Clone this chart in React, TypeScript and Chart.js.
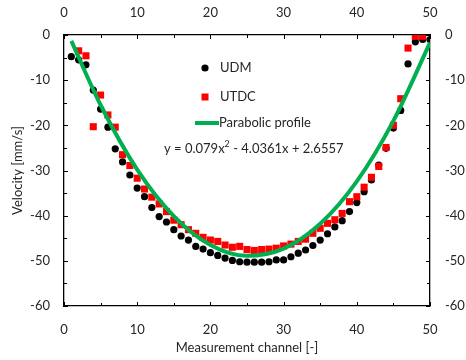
import React, { useEffect, useRef } from "react";
import { Chart, registerables } from "chart.js";

Chart.register(...registerables);

// ---- Data ----
const udmChannels = [1,2,3,4,5,6,7,8,9,10,11,12,13,14,15,16,17,18,19,20,21,22,23,24,25,26,27,28,29,30,31,32,33,34,35,36,37,38,39,40,41,42,43,44,45,46,47,48,49,50];
const udmValues = [-4.8,-5.5,-6.6,-12.2,-16.4,-20.4,-25.2,-28.1,-31.0,-33.9,-35.8,-38.2,-40.2,-41.4,-43.1,-44.5,-45.4,-46.8,-47.4,-48.2,-48.8,-49.4,-49.9,-50.2,-50.3,-50.3,-50.3,-50.2,-49.8,-49.8,-49.1,-48.3,-47.6,-46.6,-45.4,-44.0,-42.5,-41.1,-39.1,-37.1,-34.7,-32.1,-28.8,-25.1,-20.6,-16.7,-6.4,-1.5,-1.0,-1.0];

const utdcChannels = [2,3,4,5,6,7,8,9,10,11,12,13,14,15,16,17,18,19,20,21,22,23,24,25,26,27,28,29,30,31,32,33,34,35,36,37,38,39,40,41,42,43,44,45,46,47,48,49];
const utdcValues = [-3.5,-4.6,-20.3,-13.3,-17.7,-20.4,-26.5,-28.9,-31.7,-34.1,-35.9,-37.4,-39.1,-41.0,-42.0,-43.1,-43.9,-44.8,-45.4,-45.7,-46.5,-47.0,-46.8,-47.5,-47.7,-47.5,-47.4,-47.2,-46.7,-46.3,-45.7,-45.2,-43.9,-42.8,-41.7,-40.9,-39.5,-36.9,-35.8,-33.7,-31.5,-29.1,-24.9,-20.0,-14.1,-2.9,-0.3,-0.3];

const profileChannels = [1,5,10,15,20,25,30,35,40,45,50];
const profileValues = [-1.3,-15.5,-29.8,-40.1,-46.5,-48.9,-47.3,-41.8,-32.4,-19.0,-1.7];

const xTickValues = [0,10,20,30,40,50];
const yTickValues = [0,-10,-20,-30,-40,-50,-60];

const seriesNames = ["UDM", "UTDC", "Parabolic profile"];
const equationText = ["y = 0.079x", "2", " - 4.0361x + 2.6557"];

const FONT = "Lato, 'Open Sans', sans-serif";
const TEXT = "#262626";
const GREEN = "#00b050";
const RED = "#ff0000";

const toPts = (xs: number[], ys: number[]) => xs.map((x, i) => ({ x, y: ys[i] }));

const innerTicks = {
  id: "innerTicks",
  afterDraw(chart: any) {
    const { ctx, chartArea, scales } = chart;
    const { left, right, top, bottom } = chartArea;
    ctx.save();
    ctx.strokeStyle = "#000";
    ctx.lineWidth = 1;
    const xs = scales.x;
    const ys = scales.y;
    for (let v = 0; v <= 50; v += 5) {
      const px = Math.round(xs.getPixelForValue(v)) + 0.5;
      const len = v % 10 === 0 ? 4 : 3;
      ctx.beginPath();
      ctx.moveTo(px, bottom);
      ctx.lineTo(px, bottom - len);
      ctx.moveTo(px, top);
      ctx.lineTo(px, top + len);
      ctx.stroke();
    }
    for (let v = -60; v <= 0; v += 5) {
      const py = Math.round(ys.getPixelForValue(v)) + 0.5;
      const len = v % 10 === 0 ? 4 : 3;
      ctx.beginPath();
      ctx.moveTo(left, py);
      ctx.lineTo(left + len, py);
      ctx.moveTo(right, py);
      ctx.lineTo(right - len, py);
      ctx.stroke();
    }
    ctx.restore();
  },
};

const legendPlugin = {
  id: "inPlotLegend",
  afterDraw(chart: any) {
    const ctx = chart.ctx;
    ctx.save();
    ctx.font = `13px ${FONT}`;
    ctx.fillStyle = TEXT;
    ctx.textBaseline = "middle";
    ctx.textAlign = "left";
    // UDM
    ctx.beginPath();
    ctx.fillStyle = "#000";
    ctx.arc(205, 68, 3.6, 0, Math.PI * 2);
    ctx.fill();
    ctx.fillStyle = TEXT;
    ctx.fillText(seriesNames[0], 220, 68);
    // UTDC
    ctx.fillStyle = RED;
    ctx.fillRect(201.5, 93.5, 7, 7);
    ctx.fillStyle = TEXT;
    ctx.fillText(seriesNames[1], 220, 97);
    // Profile
    ctx.strokeStyle = GREEN;
    ctx.lineWidth = 4;
    ctx.beginPath();
    ctx.moveTo(195, 123);
    ctx.lineTo(219, 123);
    ctx.stroke();
    ctx.fillText(seriesNames[2], 219, 123);
    // Equation
    let x = 164;
    const y = 149;
    ctx.fillText(equationText[0], x, y);
    x += ctx.measureText(equationText[0]).width;
    ctx.font = `9px ${FONT}`;
    ctx.fillText(equationText[1], x, y - 5);
    x += ctx.measureText(equationText[1]).width;
    ctx.font = `13px ${FONT}`;
    ctx.fillText(equationText[2], x, y);
    ctx.restore();
  },
};

export default function App() {
  const ref = useRef<HTMLCanvasElement | null>(null);

  useEffect(() => {
    if (!ref.current) return;
    const tickFont = { family: FONT, size: 13 };
    const xAxis = (position: string, pad: number, size: number, title: boolean) => ({
      type: "linear",
      position,
      min: 0,
      max: 50,
      afterBuildTicks: (s: any) => {
        s.ticks = xTickValues.map((v) => ({ value: v }));
      },
      afterFit: (s: any) => {
        s.height = size;
      },
      ticks: { color: TEXT, font: tickFont, padding: pad, maxRotation: 0 },
      grid: { display: false, drawTicks: false },
      border: { display: true, color: "#000", width: 1.3 },
      title: {
        display: title,
        text: "Measurement channel [-]",
        color: TEXT,
        font: tickFont,
        padding: { top: 0, bottom: 4 },
      },
    });
    const yAxis = (position: string, pad: number, size: number, title: boolean) => ({
      type: "linear",
      position,
      min: -60,
      max: 0,
      afterBuildTicks: (s: any) => {
        s.ticks = yTickValues.map((v) => ({ value: v }));
      },
      afterFit: (s: any) => {
        s.width = size;
      },
      ticks: { color: TEXT, font: tickFont, padding: pad },
      grid: { display: false, drawTicks: false },
      border: { display: true, color: "#000", width: 1.3 },
      title: {
        display: title,
        text: "Velocity [mm/s]",
        color: TEXT,
        font: tickFont,
        padding: { top: 10, bottom: 0 },
      },
    });

    const chart = new Chart(ref.current, {
      type: "scatter",
      data: {
        datasets: [
          {
            label: seriesNames[2],
            data: toPts(profileChannels, profileValues),
            showLine: true,
            borderColor: GREEN,
            borderWidth: 4,
            pointRadius: 0,
            cubicInterpolationMode: "monotone",
            order: 0,
          },
          {
            label: seriesNames[1],
            data: toPts(utdcChannels, utdcValues),
            pointStyle: "rect",
            pointRadius: 5,
            backgroundColor: RED,
            borderColor: RED,
            borderWidth: 0,
            order: 1,
          },
          {
            label: seriesNames[0],
            data: toPts(udmChannels, udmValues),
            pointStyle: "circle",
            pointRadius: 3.6,
            backgroundColor: "#000",
            borderColor: "#000",
            borderWidth: 0,
            order: 2,
          },
        ],
      } as any,
      options: {
        responsive: false,
        animation: false,
        layout: { padding: 0 },
        plugins: { legend: { display: false }, tooltip: { enabled: false } },
        scales: {
          x: xAxis("bottom", 16, 54, true),
          x2: xAxis("top", 14, 35, false),
          y: yAxis("left", 14, 64, true),
          y2: yAxis("right", 15, 36, false),
        } as any,
      },
      plugins: [innerTicks, legendPlugin],
    });
    return () => chart.destroy();
  }, []);

  return (
    <div style={{ position: "fixed", left: 0, top: 0, width: 466, height: 360, background: "#fff" }}>
      <canvas ref={ref} width={466} height={360} />
    </div>
  );
}
